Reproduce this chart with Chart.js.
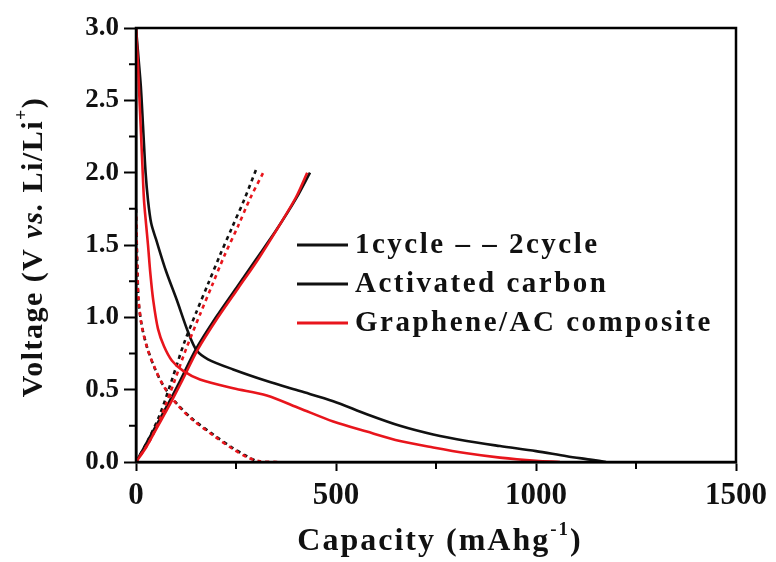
<!DOCTYPE html>
<html>
<head>
<meta charset="utf-8">
<script src="https://cdn.jsdelivr.net/npm/chart.js@4.4.0/dist/chart.umd.min.js"></script>
<style>
html, body { margin: 0; padding: 0; background: #fff; }
</style>
</head>
<body>
<canvas id="chart" width="776" height="562"></canvas>
<script>
// capacity (mAh/g) and voltage (V)
const acDis1Cap = [0, 6, 12, 18, 24, 30, 38, 50, 75, 102, 130, 152, 180, 243, 327, 410, 493, 577, 660, 743, 827, 910, 1000, 1077, 1140, 1175];
const acDis1V   = [3.0, 2.8, 2.6, 2.3, 2.0, 1.81, 1.65, 1.54, 1.32, 1.12, 0.90, 0.77, 0.71, 0.64, 0.56, 0.49, 0.42, 0.33, 0.25, 0.19, 0.145, 0.11, 0.075, 0.04, 0.015, 0];
const gcDis1Cap = [0, 4, 8, 12, 16, 20, 25, 30, 36, 43, 55, 70, 90, 118, 160, 243, 327, 410, 493, 577, 660, 743, 827, 910, 1000, 1060];
const gcDis1V   = [3.0, 2.8, 2.55, 2.3, 2.05, 1.81, 1.65, 1.5, 1.3, 1.12, 0.92, 0.8, 0.7, 0.63, 0.57, 0.51, 0.46, 0.37, 0.28, 0.21, 0.145, 0.10, 0.06, 0.03, 0.008, 0];

const acChg1Cap = [0, 20, 50, 80, 110, 150, 200, 250, 300, 350, 400, 435];
const acChg1V   = [0, 0.1, 0.25, 0.4, 0.56, 0.78, 1.0, 1.2, 1.4, 1.6, 1.82, 2.0];
const gcChg1Cap = [0, 25, 55, 85, 115, 155, 205, 255, 305, 355, 400, 428];
const gcChg1V   = [0, 0.1, 0.25, 0.4, 0.56, 0.78, 1.0, 1.2, 1.4, 1.62, 1.83, 2.0];

const acDis2Cap = [0, 2, 4, 6, 14, 27, 45, 68, 100, 140, 193, 240, 277, 305];
const acDis2V   = [1.75, 1.5, 1.3, 1.12, 0.95, 0.8, 0.66, 0.53, 0.41, 0.3, 0.19, 0.1, 0.04, 0];
const gcDis2Cap = [0, 2, 4, 7, 15, 29, 47, 70, 102, 142, 195, 242, 280, 310, 355];
const gcDis2V   = [1.7, 1.45, 1.25, 1.1, 0.93, 0.78, 0.65, 0.52, 0.40, 0.29, 0.18, 0.09, 0.03, 0.005, 0];

const acChg2Cap = [0, 30, 60, 90, 120, 150, 180, 210, 240, 270, 300];
const acChg2V   = [0, 0.15, 0.33, 0.57, 0.82, 1.03, 1.23, 1.43, 1.62, 1.81, 2.02];
const gcChg2Cap = [0, 35, 65, 95, 125, 160, 190, 220, 255, 285, 318];
const gcChg2V   = [0, 0.15, 0.33, 0.55, 0.78, 1.02, 1.22, 1.42, 1.63, 1.82, 2.0];

const xMajor = [0, 500, 1000, 1500];
const xMinor = [250, 750, 1250];
const yMinor = [0.25, 0.75, 1.25, 1.75, 2.25, 2.75];

const legendRows = ['1cycle \u2013 \u2013 2cycle', 'Activated carbon', 'Graphene/AC composite'];

const BLACK = '#111111';
const RED = '#e8151c';
const SERIF = '"Liberation Serif", "Times New Roman", serif';

const pts = (cap, v) => cap.map((c, i) => ({ x: c, y: v[i] }));

const mkSet = (cap, v, color, dashed) => ({
    data: pts(cap, v),
    borderColor: color,
    borderWidth: 2.6,
    borderDash: dashed ? [4, 4] : [],
    pointRadius: 0,
    tension: 0.3,
    fill: false
});

// draws pieces of text one after another (for italics and superscripts)
function drawParts(ctx, parts, x, y) {
    let total = 0;
    parts.forEach(p => { ctx.font = p.font; total += ctx.measureText(p.text).width; });
    let cx = x - total / 2;
    parts.forEach(p => {
        ctx.font = p.font;
        ctx.fillText(p.text, cx, y - (p.rise || 0));
        cx += ctx.measureText(p.text).width;
    });
}

const decorations = {
    id: 'decorations',
    afterDraw(chart) {
        const { ctx, chartArea: a, scales } = chart;
        ctx.save();
        ctx.strokeStyle = '#000';
        ctx.fillStyle = BLACK;

        // frame
        ctx.lineWidth = 2.5;
        ctx.strokeRect(a.left, a.top, a.right - a.left, a.bottom - a.top);

        // minor ticks
        ctx.lineWidth = 2;
        ctx.beginPath();
        yMinor.forEach(v => {
            const py = scales.y.getPixelForValue(v);
            ctx.moveTo(a.left - 7, py);
            ctx.lineTo(a.left, py);
        });
        xMinor.forEach(v => {
            const px = scales.x.getPixelForValue(v);
            ctx.moveTo(px, a.bottom);
            ctx.lineTo(px, a.bottom + 7);
        });
        ctx.stroke();

        ctx.textBaseline = 'alphabetic';
        ctx.textAlign = 'left';

        // x title
        ctx.letterSpacing = '2px';
        drawParts(ctx, [
            { text: 'Capacity (mAhg', font: `bold 32px ${SERIF}` },
            { text: '-1', font: `bold 19px ${SERIF}`, rise: 15 },
            { text: ')', font: `bold 32px ${SERIF}` }
        ], (a.left + a.right) / 2 + 4, 550);

        // y title
        ctx.save();
        ctx.translate(42, 247);
        ctx.rotate(-Math.PI / 2);
        ctx.letterSpacing = '1.5px';
        drawParts(ctx, [
            { text: 'Voltage (V ', font: `bold 30px ${SERIF}` },
            { text: 'vs.', font: `italic bold 30px ${SERIF}` },
            { text: ' Li/Li', font: `bold 30px ${SERIF}` },
            { text: '+', font: `bold 18px ${SERIF}`, rise: 15 },
            { text: ')', font: `bold 30px ${SERIF}` }
        ], 0, 0);
        ctx.restore();

        // legend
        const rowY = [253, 292, 331];
        const rowColor = [BLACK, BLACK, RED];
        ctx.font = `bold 29px ${SERIF}`;
        ctx.letterSpacing = '2.5px';
        legendRows.forEach((txt, i) => {
            ctx.strokeStyle = rowColor[i];
            ctx.lineWidth = 3;
            ctx.beginPath();
            ctx.moveTo(297, rowY[i] - 8);
            ctx.lineTo(348, rowY[i] - 8);
            ctx.stroke();
            ctx.fillStyle = BLACK;
            ctx.fillText(txt, 355, rowY[i]);
        });
        ctx.restore();
    }
};

new Chart(document.getElementById('chart'), {
    type: 'line',
    data: {
        datasets: [
            mkSet(gcDis1Cap, gcDis1V, RED, false),
            mkSet(gcChg1Cap, gcChg1V, RED, false),
            mkSet(gcDis2Cap, gcDis2V, RED, true),
            mkSet(gcChg2Cap, gcChg2V, RED, true),
            mkSet(acDis1Cap, acDis1V, BLACK, false),
            mkSet(acChg1Cap, acChg1V, BLACK, false),
            mkSet(acDis2Cap, acDis2V, BLACK, true),
            mkSet(acChg2Cap, acChg2V, BLACK, true)
        ]
    },
    options: {
        responsive: false,
        animation: false,
        layout: { padding: { left: 0, top: 28, right: 40, bottom: 0 } },
        plugins: { legend: { display: false }, tooltip: { enabled: false } },
        scales: {
            x: {
                type: 'linear',
                min: 0,
                max: 1500,
                afterFit: (s) => { s.height = 100; },
                afterBuildTicks: (s) => { s.ticks = xMajor.map(v => ({ value: v })); },
                ticks: {
                    color: BLACK,
                    padding: 6,
                    maxRotation: 0,
                    callback: (v) => String(v),
                    font: { family: SERIF, size: 31, weight: 'bold' }
                },
                grid: { drawOnChartArea: false, tickLength: 9, tickWidth: 2, color: '#000' },
                border: { color: '#000', width: 2.5 }
            },
            y: {
                min: 0,
                max: 3,
                afterFit: (s) => { s.width = 136; },
                ticks: {
                    stepSize: 0.5,
                    color: BLACK,
                    padding: 5,
                    callback: (v) => v.toFixed(1),
                    font: { family: SERIF, size: 27, weight: 'bold' }
                },
                grid: { drawOnChartArea: false, tickLength: 12, tickWidth: 2, color: '#000' },
                border: { color: '#000', width: 2.5 }
            }
        }
    },
    plugins: [decorations]
});
</script>
</body>
</html>
